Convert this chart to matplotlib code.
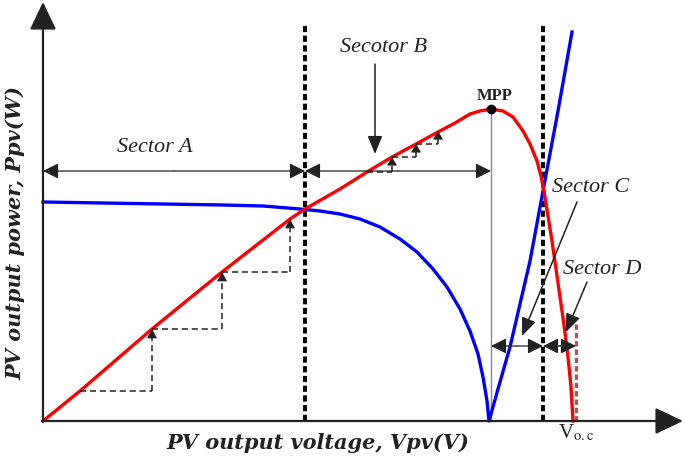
import numpy as np
import matplotlib.pyplot as plt

# curve data (voltage units along x, power units along y)
v_power = [0, 37, 109, 179, 247, 262, 297, 324, 349, 373, 395, 412, 427, 437,
           448, 460, 470, 480, 487, 494, 498, 501, 505, 509, 513, 517, 521,
           525, 528, 530]
p_power = [0, 30, 92, 149, 202, 212, 232, 249, 264, 277, 289, 298, 307, 310,
           312, 310, 304, 290, 277, 260, 245, 230, 205, 180, 152, 124, 96,
           64, 34, 0]

v_curve = [0, 60, 120, 180, 220, 257, 277, 297, 317, 337, 357, 374, 390, 404,
           417, 427, 435, 440, 444, 446, 455, 467, 487, 500, 515, 529]
p_curve = [219, 218, 217, 216, 215, 212, 210, 207, 202, 194, 182, 169, 152,
           134, 112, 90, 67, 44, 20, 0, 32, 74, 160, 230, 310, 389]

# perturb & observe steps
step_v_a = [37, 109, 179, 247]
step_p_a = [30, 92, 149, 202]
step_v_b = [324, 349, 373, 395]
step_p_b = [249, 264, 277, 290]

v_mpp, p_mpp = 448, 312
v_sec1, v_sec2, v_sec3 = 262, 500, 533

fig = plt.figure(figsize=(6.85, 4.64), dpi=100)
ax = fig.add_axes([0, 0, 1, 1])
ax.set_xlim(-43, 642)
ax.set_ylim(-42, 422)
ax.axis('off')

dark = '#222222'

# axes with arrows
ax.annotate('', xy=(0, 419), xytext=(0, -1),
            arrowprops=dict(arrowstyle='-|>,head_length=0.86,head_width=0.41',
                            mutation_scale=20, color=dark, lw=1.6,
                            shrinkA=0, shrinkB=0))
ax.annotate('', xy=(640, 0), xytext=(-1, 0),
            arrowprops=dict(arrowstyle='-|>,head_length=0.86,head_width=0.41',
                            mutation_scale=20, color=dark, lw=1.6,
                            shrinkA=0, shrinkB=0))

# sector boundaries
for xv in (v_sec1, v_sec2):
    ax.plot([xv, xv], [0, 397], color='black', lw=2.8, ls=(0, (1.6, 0.9)))
ax.plot([v_mpp, v_mpp], [0, p_mpp], color='#888888', lw=1.0)
ax.plot([v_sec3, v_sec3], [0, 99], color='#a05a5a', lw=2.4, ls=(0, (1.6, 0.9)))

# curves
ax.plot(v_curve, p_curve, color='#0000ff', lw=2.4, solid_joinstyle='round')
ax.plot(v_power, p_power, color='#ff0000', lw=2.4, solid_joinstyle='round')
ax.plot([v_mpp], [p_mpp], 'o', color='black', ms=6)


def double_arrow(x0, x1, y):
    for a, b in ((x0, x1), (x1, x0)):
        mid = (a + b) / 2
        ax.annotate('', xy=(b, y), xytext=(mid, y),
                    arrowprops=dict(arrowstyle='-|>,head_length=0.94,head_width=0.47',
                                    mutation_scale=10, color=dark, lw=0.9,
                                    shrinkA=0, shrinkB=0))


def staircase(vs, ps, head=0.55):
    for i in range(len(vs) - 1):
        ax.plot([vs[i], vs[i + 1]], [ps[i], ps[i]], color=dark, lw=1.1, ls=(0, (4, 2.5)))
        ax.plot([vs[i + 1], vs[i + 1]], [ps[i], ps[i + 1] - 5], color=dark, lw=1.1,
                ls=(0, (4, 2.5)))
        ax.annotate('', xy=(vs[i + 1], ps[i + 1]), xytext=(vs[i + 1], ps[i + 1] - 6),
                    arrowprops=dict(arrowstyle='-|>,head_length=%.2f,head_width=0.3' % head,
                                    mutation_scale=10, color=dark, lw=0.8,
                                    shrinkA=0, shrinkB=0))


staircase(step_v_a, step_p_a)
staircase(step_v_b, step_p_b, head=0.5)

double_arrow(0, v_sec1, 250)
double_arrow(v_sec1, v_mpp, 250)
double_arrow(v_mpp, v_sec2, 75)
double_arrow(v_sec2, v_sec3, 75)


def pointer(xy, xytext):
    ax.annotate('', xy=xy, xytext=xytext,
                arrowprops=dict(arrowstyle='-|>,head_length=1.1,head_width=0.45',
                                mutation_scale=10, color=dark, lw=1.1,
                                shrinkA=0, shrinkB=0))


pointer((332, 267), (332, 357))
pointer((479, 85), (534, 219))
pointer((523, 89), (544, 139))

serif = 'Liberation Serif'
txt = dict(family=serif, style='italic', fontsize=16, color=dark,
           ha='center', va='center')
ax.text(112, 274, 'Sector A', **txt)
ax.text(341, 375, 'Secotor B', **txt)
ax.text(548, 235, 'Sector C', **txt)
ax.text(559, 152, 'Sector D', **txt)
ax.text(452, 326, 'MPP', family=serif, weight='bold', fontsize=12,
        color=dark, ha='center', va='center')

plt.rcParams['mathtext.fontset'] = 'stix'
ax.text(515, -11, r'V$_{\mathrm{o.c}}$', family=serif, fontsize=15,
        color=dark, ha='left', va='center')

lab = dict(family='DejaVu Serif', weight='bold', style='italic', fontsize=15,
           color=dark, ha='center', va='center')
ax.text(275, -21, 'PV output voltage, Vpv(V)', **lab)
ax.text(-28, 189, 'PV output power, Ppv(W)', rotation=90, **lab)

fig.savefig('out.png', dpi=100)
